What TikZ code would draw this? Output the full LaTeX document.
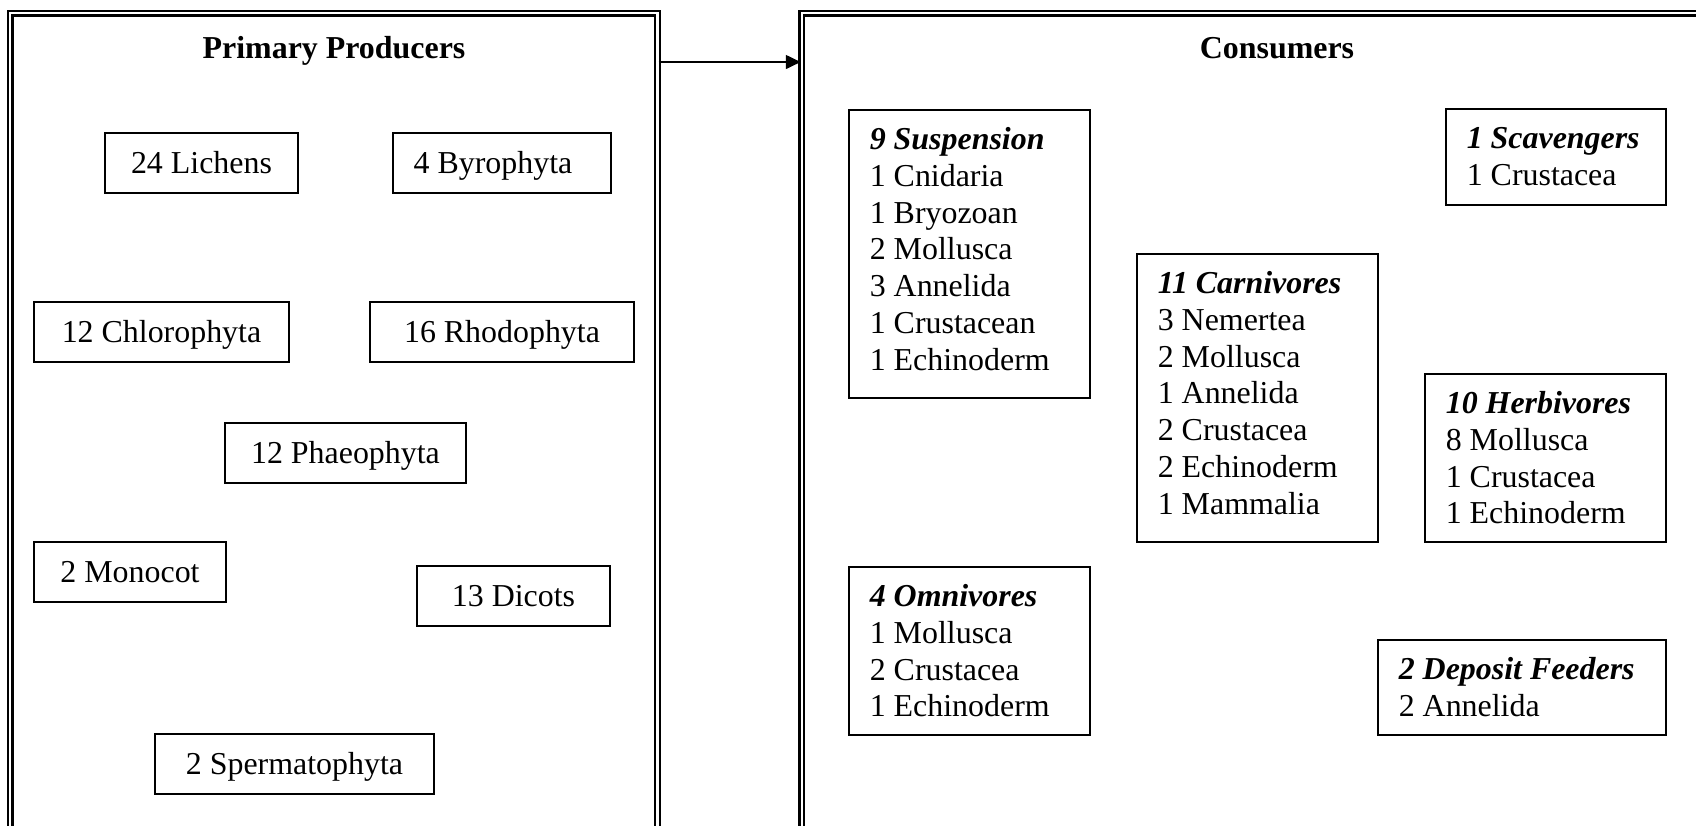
\documentclass[tikz,border=0pt]{standalone}
\usepackage{fontspec}
\setmainfont{Liberation Serif}
\usetikzlibrary{fit,arrows.meta}

\tikzset{
  frame/.style={draw, double, line width=0.83pt, double distance=0.86pt, inner sep=0pt},
  taxbox/.style={draw, line width=0.55pt, inner sep=0pt},
  titletxt/.style={font=\fontsize{12}{13.8}\selectfont\bfseries, inner sep=0pt, anchor=base},
  prodtxt/.style={font=\fontsize{12}{13.8}\selectfont, inner sep=0pt, anchor=base},
  grptxt/.style={font=\fontsize{12}{13.8}\selectfont, inner sep=0pt, align=left, anchor=north west},
}
\newcommand{\grphead}[1]{\strut\textbf{\textit{#1}}}

\begin{document}
\begin{tikzpicture}[x=0.376pt, y=-0.376pt]
    \useasboundingbox (0,0) rectangle (1696,825);
    \clip (0,0) rectangle (1696,825);

    % the two framed panels (cut off at the right and bottom)
    \node[frame, fit={(10.25,13.25) (657.5,1000)}] (prod) {};
    \node[frame, fit={(801.75,13.25) (1760,1000)}] (cons) {};
    \coordinate (arrowy) at (0,62);
    \draw[line width=0.5pt, -{Triangle[length=5.6pt, width=5.3pt]}] (prod.east |- arrowy) -- (cons.west |- arrowy);

    \node[titletxt] (prod-title) at (334,58) {Primary Producers};
    \node[titletxt] (cons-title) at (1277,58) {Consumers};

    % producers: one line each
    \foreach \nm/\xa/\ya/\xb/\yb/\dx/\txt in {
        lich/105/133/298/193/0/24 Lichens, bryo/393/133/611/193/-9/4 Byrophyta,
        chlo/34/302/289/362/0/12 Chlorophyta, rhod/370/302/634/362/0/16 Rhodophyta,
        phae/225/423/466/483/0/12 Phaeophyta,
        mono/34/542/226/602/0/2 Monocot, dico/417/566/610/626/0/13 Dicots,
        sper/155/734/434/794/0/2 Spermatophyta} {
        \node[taxbox, fit={(\xa,\ya) (\xb,\yb)}] (\nm) {};
        \node[prodtxt] (\nm-t) at ([shift={(\dx,10)}]\nm.center) {\txt};
    }

    % consumers: heading plus list
    \node[taxbox, fit={(849,110) (1090,398)}] (susp) {};
    \node[grptxt] (susp-t) at ([shift={(21,14.3)}]susp.north west)
        {\grphead{9 Suspension}\\1 Cnidaria\\1 Bryozoan\\2 Mollusca\\3 Annelida\\1 Crustacean\\1 Echinoderm};

    \node[taxbox, fit={(1446,109) (1666,205)}] (scav) {};
    \node[grptxt] (scav-t) at ([shift={(21,14.3)}]scav.north west)
        {\grphead{1 Scavengers}\\1 Crustacea};

    \node[taxbox, fit={(1137,254) (1378,542)}] (carn) {};
    \node[grptxt] (carn-t) at ([shift={(21,14.3)}]carn.north west)
        {\grphead{11 Carnivores}\\3 Nemertea\\2 Mollusca\\1 Annelida\\2 Crustacea\\2 Echinoderm\\1 Mammalia};

    \node[taxbox, fit={(1425,374) (1666,542)}] (herb) {};
    \node[grptxt] (herb-t) at ([shift={(21,14.3)}]herb.north west)
        {\grphead{10 Herbivores}\\8 Mollusca\\1 Crustacea\\1 Echinoderm};

    \node[taxbox, fit={(849,567) (1090,735)}] (omni) {};
    \node[grptxt] (omni-t) at ([shift={(21,14.3)}]omni.north west)
        {\grphead{4 Omnivores}\\1 Mollusca\\2 Crustacea\\1 Echinoderm};

    \node[taxbox, fit={(1378,640) (1666,735)}] (depo) {};
    \node[grptxt] (depo-t) at ([shift={(21,14.3)}]depo.north west)
        {\grphead{2 Deposit Feeders}\\2 Annelida};
\end{tikzpicture}
\end{document}
